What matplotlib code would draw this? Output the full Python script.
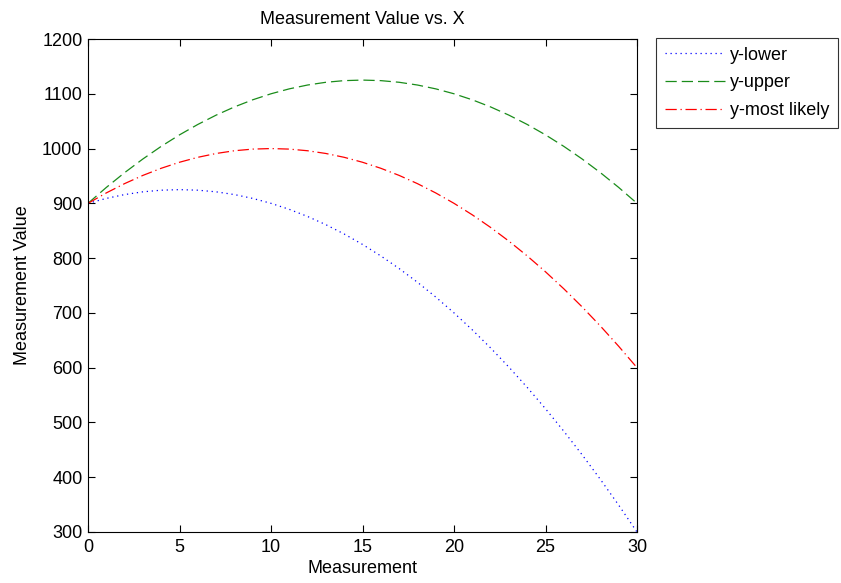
import matplotlib.pyplot as plt

plt.rcParams['font.family'] = ['Liberation Sans', 'DejaVu Sans']

# values at each whole x
x = [0, 1, 2, 3, 4, 5, 6, 7, 8, 9, 10, 11, 12, 13, 14, 15, 16, 17, 18, 19, 20,
     21, 22, 23, 24, 25, 26, 27, 28, 29, 30]
y_lower = [900, 909, 916, 921, 924, 925, 924, 921, 916, 909, 900, 889, 876, 861,
           844, 825, 804, 781, 756, 729, 700, 669, 636, 601, 564, 525, 484, 441,
           396, 349, 300]
y_upper = [900, 929, 956, 981, 1004, 1025, 1044, 1061, 1076, 1089, 1100, 1109,
           1116, 1121, 1124, 1125, 1124, 1121, 1116, 1109, 1100, 1089, 1076,
           1061, 1044, 1025, 1004, 981, 956, 929, 900]
y_likely = [900, 919, 936, 951, 964, 975, 984, 991, 996, 999, 1000, 999, 996,
            991, 984, 975, 964, 951, 936, 919, 900, 879, 856, 831, 804, 775, 744,
            711, 676, 639, 600]

fs = 13

fig = plt.figure(figsize=(8.41, 5.83), dpi=100)
ax = fig.add_axes([88 / 841, 1 - 532 / 583, (637 - 88) / 841, (532 - 39) / 583])

ax.plot(x, y_lower, color='blue', linestyle=(0, (1, 3)), linewidth=0.9, label='y-lower')
ax.plot(x, y_upper, color='#1a8c1a', linestyle=(0, (9, 4)), linewidth=0.9, label='y-upper')
ax.plot(x, y_likely, color='red', linestyle=(0, (9, 3, 1, 3)), linewidth=0.9, label='y-most likely')

ax.set_xlim(0, 30)
ax.set_ylim(300, 1200)
ax.set_xticks(range(0, 31, 5))
ax.set_yticks(range(300, 1201, 100))
ax.tick_params(direction='in', top=True, right=True, labelsize=fs, length=5, width=0.8)
ax.tick_params(axis='x', pad=5)
ax.tick_params(axis='y', pad=4)
for s in ax.spines.values():
    s.set_linewidth(0.8)

ax.set_title('Measurement Value vs. X', fontsize=fs, pad=11)
ax.set_xlabel('Measurement', fontsize=fs, labelpad=3)
ax.set_ylabel('Measurement Value', fontsize=fs, labelpad=8)

leg = ax.legend(loc='upper left', bbox_to_anchor=(1.035, 1.003), fontsize=fs,
                frameon=True, fancybox=False, borderaxespad=0, handlelength=3.3,
                handletextpad=0.28, borderpad=0.5, labelspacing=0.6)
leg.get_frame().set_edgecolor('black')
leg.get_frame().set_linewidth(0.8)

fig.savefig('out.png', dpi=100)
